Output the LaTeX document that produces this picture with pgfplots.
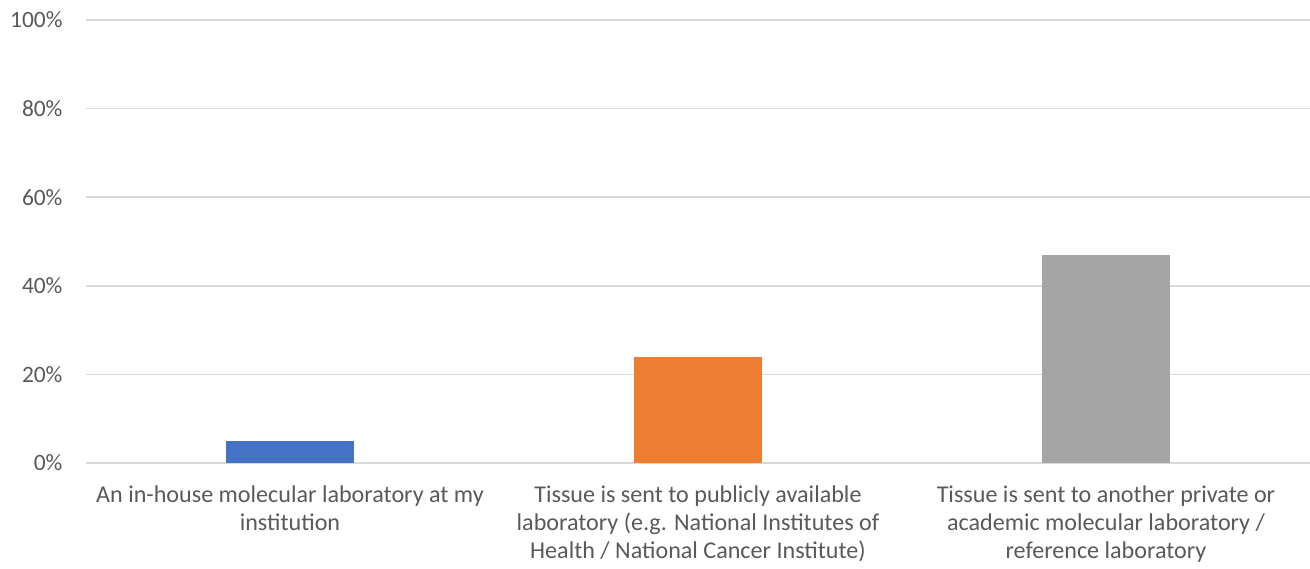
\documentclass[border=0pt]{standalone}
\usepackage{pgfplots}
\pgfplotsset{compat=1.18}
\usepackage{fontspec}
\setmainfont{Carlito}
\definecolor{cblue}{HTML}{4472C4}
\definecolor{corange}{HTML}{ED7D31}
\definecolor{cgray}{HTML}{A5A5A5}
\definecolor{cgrid}{HTML}{D9D9D9}
\definecolor{ctext}{HTML}{595959}
\begin{document}
\begin{tikzpicture}
\useasboundingbox (-86bp,-106bp) rectangle (1224bp,463bp);
\begin{axis}[
  at={(0,0)}, anchor=south west,
  scale only axis,
  width=1224bp, height=443bp,
  xmin=-0.5, xmax=2.5,
  ymin=0, ymax=100,
  ytick={0,20,40,60,80,100},
  yticklabel={\pgfmathprintnumber{\tick}\%},
  /pgf/number format/assume math mode=true,
  xtick={0,1,2},
  xticklabels={{An in-house molecular laboratory at my\\institution},
               {Tissue is sent to publicly available\\laboratory (e.g. National Institutes of\\Health / National Cancer Institute)},
               {Tissue is sent to another private or\\academic molecular laboratory /\\reference laboratory}},
  xticklabel style={align=center, font=\fontsize{24.2}{28.3}\selectfont, text=ctext, yshift=-19bp},
  yticklabel style={font=\fontsize{23.5}{28}\selectfont, text=ctext, xshift=-20bp},
  ymajorgrids, grid style={cgrid, line width=1.5bp},
  axis line style={draw=none},
  major tick length=0pt,
  ybar, bar width=128bp, bar shift=0pt,
]
\addplot[fill=cblue, draw=none] coordinates {(0,5)};
\addplot[fill=corange, draw=none] coordinates {(1,24)};
\addplot[fill=cgray, draw=none] coordinates {(2,47)};
\end{axis}
\end{tikzpicture}
\end{document}
